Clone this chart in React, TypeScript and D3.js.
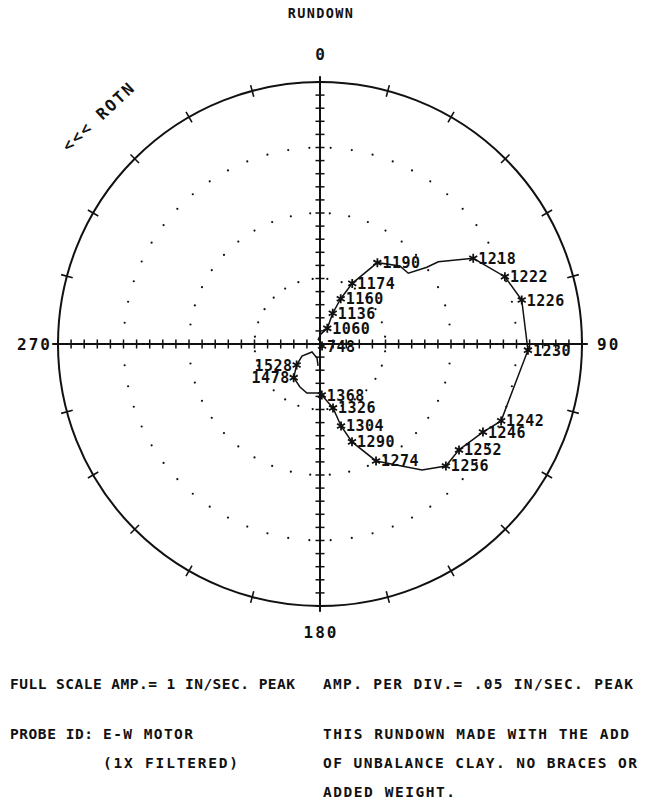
import React from "react";
import * as d3 from "d3";

// rundown points, highest speed first (null = plotted point with no label)
const rpm = [
  null, null, null, null, 1528, 1478, null, null, null, 1368, 1326, 1304, 1290, 1274,
  null, 1256, 1252, 1246, 1242, 1230, 1226, 1222, 1218, null, null, null, null, 1190,
  1174, 1160, 1136, 1060, null, null, null, 748,
];
// amplitude, in/sec peak
const amp = [
  0.084, 0.055, 0.043, 0.083, 0.12, 0.163, 0.181, 0.194, 0.187, 0.195, 0.249, 0.323,
  0.393, 0.495, 0.619, 0.669, 0.667, 0.707, 0.751, 0.794, 0.788, 0.751, 0.67, 0.55,
  0.502, 0.432, 0.426, 0.38, 0.262, 0.19, 0.127, 0.066, 0.038, 0.019, 0.008, 0.011,
];
// phase, degrees
const phase = [
  185, 192, 225, 236, 228, 218, 205, 195, 182, 178, 168.5, 165.6, 161.9, 154.4, 141,
  134.1, 127.3, 118.4, 113, 91.7, 77.7, 70, 60.8, 55.2, 54.3, 51.3, 45.7, 35.2, 28,
  24.6, 22.5, 24.9, 5, 340, 15, 135,
];

const dotRings = [0.25, 0.5, 0.75];
const dotCounts = [28, 42, 58];
const angleLabels = ["0", "90", "180", "270"];

const title = "RUNDOWN";
const rotnText = "<<< ROTN";
const scaleLine1 = "FULL SCALE AMP.= 1 IN/SEC. PEAK";
const scaleLine2 = "AMP. PER DIV.= .05 IN/SEC. PEAK";
const probeLabel = "PROBE ID:";
const probeLines = ["E-W MOTOR", "(1X FILTERED)"];
const noteLines = ["THIS RUNDOWN MADE WITH THE ADD", "OF UNBALANCE CLAY. NO BRACES OR", "ADDED WEIGHT."];

const W = 645;
const H = 800;
const cx = 320;
const cy = 344;
const R = 262;
const ink = "#111";
const mono = "'DejaVu Sans Mono', monospace";

const rScale = d3.scaleLinear().domain([0, 1]).range([0, R]);
const aScale = d3.scaleLinear().domain([0, 360]).range([0, 2 * Math.PI]);

const pos = (a: number, deg: number) => d3.pointRadial(aScale(deg), rScale(a));

const App = () => {
  const pts = amp.map((a, i) => pos(a, phase[i]));
  const line = d3.line();
  const starPath = "M0,-4.5V4.5M-4,-2.3L4,2.3M-4,2.3L4,-2.3";
  const axisTicks = rScale.ticks(20).filter((t) => t > 0);

  return (
    <svg
      width={W}
      height={H}
      style={{ position: "absolute", left: 0, top: 0, background: "#fff" }}
    >
      <text x={321} y={18} textAnchor="middle" fontFamily={mono} fontWeight="bold" fontSize={13.5} letterSpacing={1.4} fill={ink}>
        {title}
      </text>

      <g transform={`translate(${cx},${cy})`}>
        <circle r={R} fill="none" stroke={ink} strokeWidth={2} />

        {/* dotted rings */}
        {dotRings.map((ring, k) =>
          d3.range(dotCounts[k]).map((j) => {
            const [x, y] = pos(ring, (360 / dotCounts[k]) * (j + 0.5));
            return <circle key={`d${k}-${j}`} cx={x} cy={y} r={1.1} fill={ink} />;
          })
        )}

        {/* outer circle ticks */}
        {d3.range(0, 360, 15).map((deg) => {
          const [x1, y1] = d3.pointRadial(aScale(deg), R - 6);
          const [x2, y2] = d3.pointRadial(aScale(deg), R + 6);
          return <line key={`o${deg}`} x1={x1} y1={y1} x2={x2} y2={y2} stroke={ink} strokeWidth={1.6} />;
        })}

        {/* axes */}
        <line x1={-R - 5} y1={0} x2={R + 5} y2={0} stroke={ink} strokeWidth={2} />
        <line x1={0} y1={-R - 5} x2={0} y2={R + 5} stroke={ink} strokeWidth={2} />
        {axisTicks.map((t) => {
          const p = rScale(t);
          return (
            <g key={`t${t}`} stroke={ink} strokeWidth={1.5}>
              <line x1={p} y1={-4.5} x2={p} y2={4.5} />
              <line x1={-p} y1={-4.5} x2={-p} y2={4.5} />
              <line x1={-4.5} y1={p} x2={4.5} y2={p} />
              <line x1={-4.5} y1={-p} x2={4.5} y2={-p} />
            </g>
          );
        })}

        {/* rundown curve */}
        <path d={line(pts as [number, number][]) || ""} fill="none" stroke={ink} strokeWidth={1.5} />

        {pts.map(([x, y], i) => {
          const r = rpm[i];
          if (r === null) return null;
          const left = phase[i] > 200;
          return (
            <g key={`p${i}`}>
              <path d={starPath} transform={`translate(${x},${y})`} stroke={ink} strokeWidth={1.8} />
              <text
                x={left ? x - 4 : x + 5}
                y={y + 5.5}
                textAnchor={left ? "end" : "start"}
                fontFamily={mono}
                fontWeight="bold"
                fontSize={15}
                letterSpacing={0.5}
                fill={ink}
              >
                {r}
              </text>
            </g>
          );
        })}
      </g>

      {/* angle labels */}
      <g fontFamily={mono} fontWeight="bold" fontSize={16} letterSpacing={2} fill={ink}>
        <text x={cx + 1} y={60} textAnchor="middle">{angleLabels[0]}</text>
        <text x={597} y={350}>{angleLabels[1]}</text>
        <text x={321} y={638} textAnchor="middle">{angleLabels[2]}</text>
        <text x={52} y={350} textAnchor="end">{angleLabels[3]}</text>
      </g>

      <text
        x={99}
        y={122}
        transform="rotate(-43 99 117)"
        textAnchor="middle"
        fontFamily={mono}
        fontWeight="bold"
        fontSize={16}
        letterSpacing={2}
        fill={ink}
      >
        {rotnText}
      </text>

      <g fontFamily={mono} fontWeight="bold" fontSize={14.5} fill={ink}>
        <text x={10} y={689} textLength={285} lengthAdjust="spacing">{scaleLine1}</text>
        <text x={323} y={689} textLength={310} lengthAdjust="spacing">{scaleLine2}</text>
        <text x={10} y={739} textLength={83} lengthAdjust="spacing">{probeLabel}</text>
        <text x={103} y={739} textLength={90} lengthAdjust="spacing">{probeLines[0]}</text>
        <text x={103} y={768} textLength={135} lengthAdjust="spacing">{probeLines[1]}</text>
        <text x={323} y={739} textLength={306} lengthAdjust="spacing">{noteLines[0]}</text>
        <text x={323} y={768} textLength={314} lengthAdjust="spacing">{noteLines[1]}</text>
        <text x={323} y={797} textLength={132} lengthAdjust="spacing">{noteLines[2]}</text>
      </g>
    </svg>
  );
};

export default App;
